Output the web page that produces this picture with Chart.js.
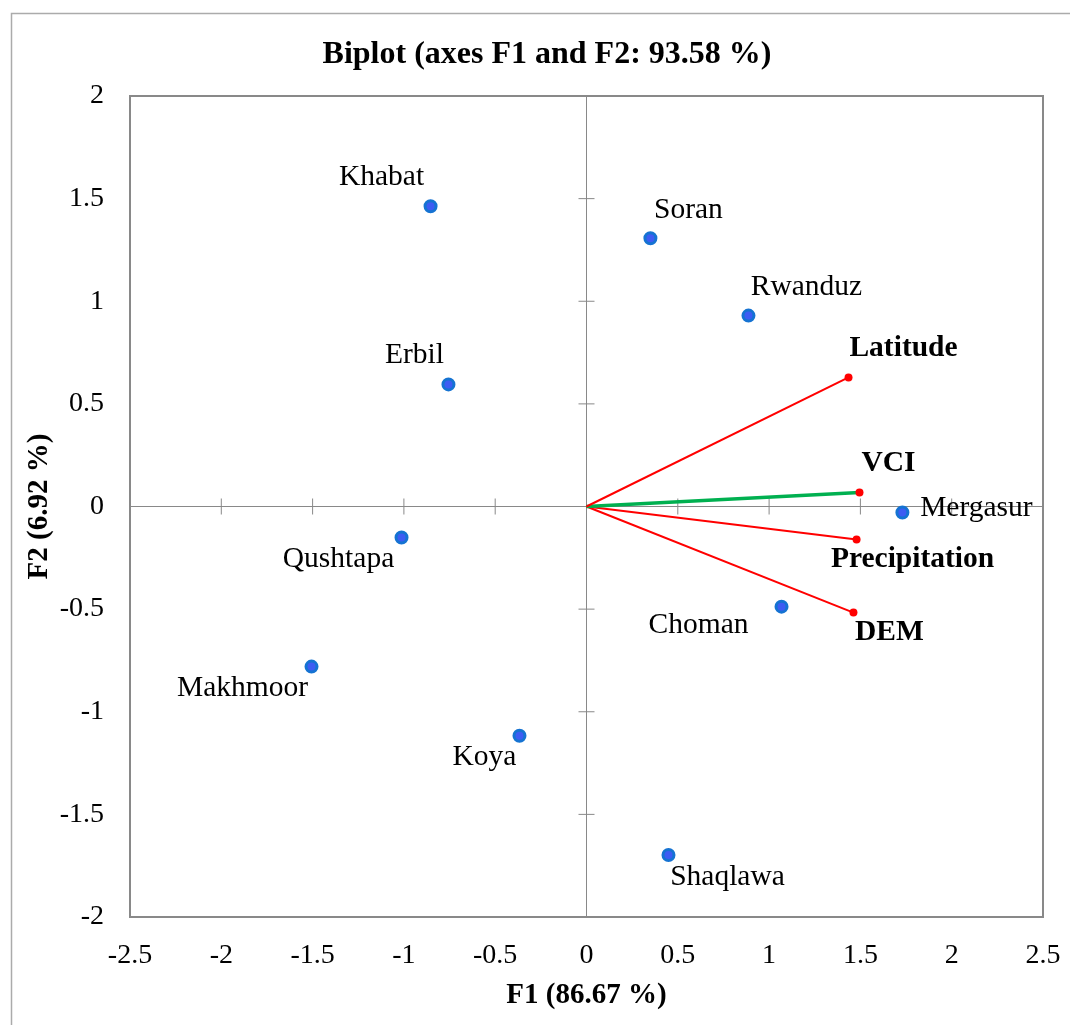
<!DOCTYPE html>
<html>
<head>
<meta charset="utf-8">
<script src="https://cdn.jsdelivr.net/npm/chart.js@4.4.1/dist/chart.umd.min.js"></script>
<style>
    html, body { margin: 0; padding: 0; background: #fff; }
    #wrap { width: 1070px; height: 1025px; position: relative; }
</style>
</head>
<body>
<div id="wrap"><canvas id="biplotChart"></canvas></div>
<script>
// Observations (sites)
const siteNames = ['Khabat', 'Soran', 'Rwanduz', 'Erbil', 'Qushtapa', 'Makhmoor', 'Koya', 'Shaqlawa', 'Choman', 'Mergasur'];
const siteF1 = [-0.854, 0.350, 0.887, -0.756, -1.013, -1.506, -0.367, 0.449, 1.068, 1.730];
const siteF2 = [1.463, 1.307, 0.930, 0.595, -0.151, -0.780, -1.117, -1.698, -0.488, -0.029];

// Variables (loading vectors)
const varNames = ['Latitude', 'VCI', 'Precipitation', 'DEM'];
const varF1 = [1.435, 1.495, 1.479, 1.462];
const varF2 = [0.629, 0.068, -0.161, -0.517];

const xTicks = [-2.5, -2, -1.5, -1, -0.5, 0, 0.5, 1, 1.5, 2, 2.5];
const yTicks = [-2, -1.5, -1, -0.5, 0, 0.5, 1, 1.5, 2];

const chartTitle = 'Biplot (axes F1 and F2: 93.58 %)';

// label placement (pixel offsets from the mark)
const siteLabelOffsets = [[-49, -29], [38, -28], [58, -28], [-34, -29], [-63, 22], [-69, 22], [-35, 21], [59, 22], [-83, 19], [74, -4]];
const varLabelOffsets = [[55, -29], [29, -29], [56, 20], [36, 20]];

const colors = {
    red: '#FF0000',
    green: '#00B050',
    pointFill: '#3D5CF2',
    pointBorder: '#1573D2',
    axis: '#898989',
    frame: '#ABABAB'
};
const serif = "'Liberation Serif', 'Times New Roman', serif";

const siteData = siteF1.map((x, i) => ({ x: x, y: siteF2[i] }));
const vectorSets = varNames.map((name, i) => ({
    label: name,
    data: [{ x: 0, y: 0 }, { x: varF1[i], y: varF2[i] }],
    showLine: true,
    borderColor: name === 'VCI' ? colors.green : colors.red,
    borderWidth: name === 'VCI' ? 3.5 : 2,
    pointRadius: [0, 4],
    pointBackgroundColor: colors.red,
    pointBorderWidth: 0,
    order: 2
}));

// cross axes through the origin + plot frame + outer frame + title + labels
const axesPlugin = {
    id: 'centerAxes',
    beforeDraw(chart) {
        const ctx = chart.ctx;
        ctx.save();
        ctx.strokeStyle = colors.frame;
        ctx.lineWidth = 1.5;
        ctx.strokeRect(11.5, 13.5, 1200, 1200);
        ctx.fillStyle = '#000';
        ctx.textAlign = 'center';
        ctx.textBaseline = 'middle';
        ctx.font = 'bold 32px ' + serif;
        ctx.fillText(chartTitle, 547, 55);
        ctx.restore();
    },
    beforeDatasetsDraw(chart) {
        const { ctx, chartArea: a, scales: { x, y } } = chart;
        const x0 = x.getPixelForValue(0);
        const y0 = y.getPixelForValue(0);
        ctx.save();
        ctx.strokeStyle = colors.axis;
        ctx.lineWidth = 1;
        ctx.beginPath();
        ctx.moveTo(a.left, y0); ctx.lineTo(a.right, y0);
        ctx.moveTo(x0, a.top); ctx.lineTo(x0, a.bottom);
        xTicks.forEach(v => {
            const px = x.getPixelForValue(v);
            ctx.moveTo(px, y0 - 8); ctx.lineTo(px, y0 + 8);
        });
        yTicks.forEach(v => {
            const py = y.getPixelForValue(v);
            ctx.moveTo(x0 - 8, py); ctx.lineTo(x0 + 8, py);
        });
        ctx.stroke();
        ctx.lineWidth = 2;
        ctx.strokeStyle = colors.axis;
        ctx.strokeRect(a.left, a.top, a.right - a.left, a.bottom - a.top);
        ctx.restore();
    },
    afterDatasetsDraw(chart) {
        const { ctx, scales: { x, y } } = chart;
        ctx.save();
        ctx.fillStyle = '#000';
        ctx.textAlign = 'center';
        ctx.textBaseline = 'middle';
        ctx.font = '29.5px ' + serif;
        siteNames.forEach((name, i) => {
            const px = x.getPixelForValue(siteF1[i]);
            const py = y.getPixelForValue(siteF2[i]);
            ctx.fillText(name, px + siteLabelOffsets[i][0], py + siteLabelOffsets[i][1]);
        });
        ctx.font = 'bold 29.5px ' + serif;
        varNames.forEach((name, i) => {
            const px = x.getPixelForValue(varF1[i]);
            const py = y.getPixelForValue(varF2[i]);
            ctx.fillText(name, px + varLabelOffsets[i][0], py + varLabelOffsets[i][1]);
        });
        ctx.restore();
    }
};

const ctx = document.getElementById('biplotChart').getContext('2d');
new Chart(ctx, {
    type: 'scatter',
    data: {
        datasets: [
            {
                label: 'Observations',
                data: siteData,
                pointRadius: 5.5,
                pointBackgroundColor: colors.pointFill,
                pointBorderColor: colors.pointBorder,
                pointBorderWidth: 3,
                order: 1
            },
            ...vectorSets
        ]
    },
    options: {
        responsive: true,
        maintainAspectRatio: false,
        animation: false,
        layout: {
            padding: { left: 0, right: 27, top: 96, bottom: 0 }
        },
        plugins: {
            legend: { display: false },
            tooltip: { enabled: false },
            title: { display: false }
        },
        scales: {
            x: {
                min: -2.5,
                max: 2.5,
                afterBuildTicks: s => { s.ticks = xTicks.map(v => ({ value: v })); },
                afterFit: s => {
                    s.height = 108;
                    s.paddingLeft = 0;
                    s.paddingRight = 0;
                },
                border: { display: false },
                grid: { display: false, drawTicks: false },
                ticks: {
                    padding: 22,
                    color: '#000',
                    font: { family: serif, size: 28 },
                    callback: v => String(v)
                },
                title: {
                    display: true,
                    text: 'F1 (86.67 %)',
                    color: '#000',
                    font: { family: serif, size: 29, weight: 'bold' },
                    padding: { top: 0, bottom: 12 }
                }
            },
            y: {
                min: -2,
                max: 2,
                afterBuildTicks: s => { s.ticks = yTicks.map(v => ({ value: v })); },
                afterFit: s => {
                    s.width = 130;
                    s.paddingTop = 0;
                    s.paddingBottom = 0;
                },
                border: { display: false },
                grid: { display: false, drawTicks: false },
                ticks: {
                    padding: 26,
                    color: '#000',
                    font: { family: serif, size: 28 },
                    callback: v => String(v)
                },
                title: {
                    display: true,
                    text: 'F2 (6.92 %)',
                    color: '#000',
                    font: { family: serif, size: 29, weight: 'bold' },
                    padding: { top: 22, bottom: 0 }
                }
            }
        }
    },
    plugins: [axesPlugin]
});
</script>
</body>
</html>
